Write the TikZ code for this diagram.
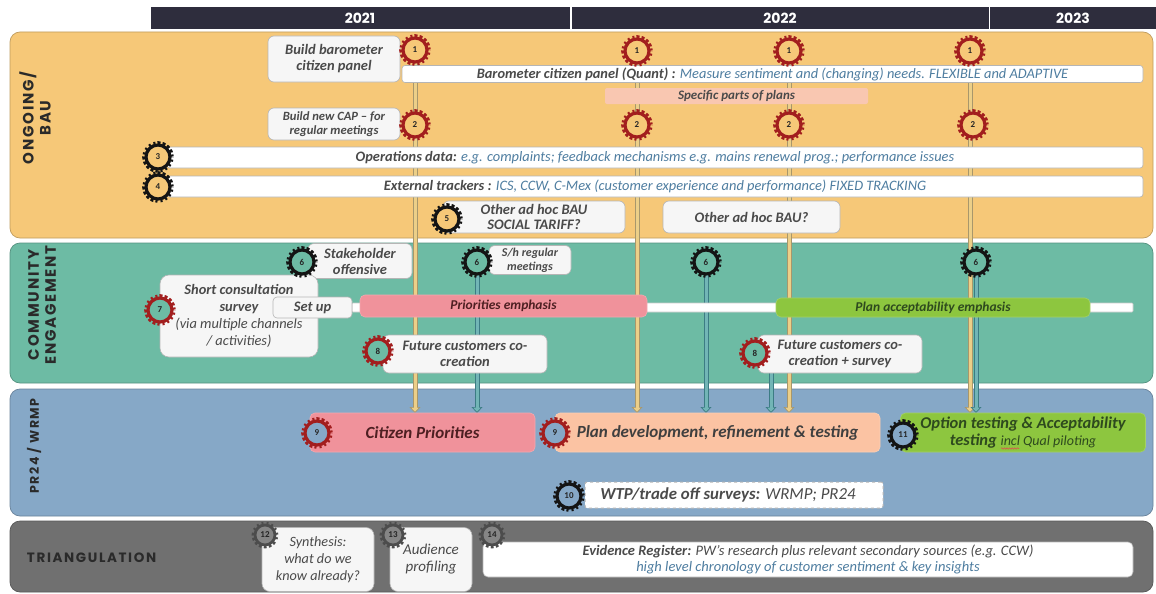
\documentclass[tikz,border=0pt]{standalone}
\usepackage{fontspec}
\setmainfont{Carlito}
\newfontfamily\headfont{Poppins}[LetterSpace=12]
\newfontfamily\yearfont{Poppins}
\usetikzlibrary{arrows.meta,decorations.pathmorphing}

% palette
\definecolor{yearbar}{HTML}{2E2D3D}
\definecolor{bauband}{HTML}{F6C878}
\definecolor{commband}{HTML}{6DBBA4}
\definecolor{prband}{HTML}{86A8C7}
\definecolor{triband}{HTML}{707070}
\definecolor{boxfill}{HTML}{F6F6F6}
\definecolor{boxline}{HTML}{B5B5B5}
\definecolor{txtgray}{HTML}{4A4A4A}
\definecolor{txtblue}{HTML}{4E7DA0}
\definecolor{labeldark}{HTML}{2A2A2A}
\definecolor{gearred}{HTML}{A21E1E}
\definecolor{gearblack}{HTML}{141414}
\definecolor{geargray}{HTML}{4C4C4C}
\definecolor{gearfillgray}{HTML}{858585}
\definecolor{pinkbar}{HTML}{F0929B}
\definecolor{peachbar}{HTML}{FBC3A3}
\definecolor{salmonbar}{HTML}{F9C7B1}
\definecolor{greenbar}{HTML}{8DC63F}
\definecolor{greentext}{HTML}{2E4A1E}
\definecolor{redtext}{HTML}{4E1F22}
\definecolor{pipeY}{HTML}{ECCF88}
\definecolor{pipeYline}{HTML}{A8976B}
\definecolor{pipeT}{HTML}{72B5B6}
\definecolor{pipeTline}{HTML}{3C7C84}
\definecolor{spellred}{HTML}{D9534F}

\pgfdeclarelayer{backdrop}
\pgfdeclarelayer{pipelayer}
\pgfsetlayers{backdrop,pipelayer,main}

\tikzset{
  every node/.style={inner sep=0pt, outer sep=0pt},
  band/.style={draw=#1!78!black, line width=0.7pt, fill=#1, rounded corners=10pt},
  bandlabel/.style={text=labeldark, align=center, font=\headfont\bfseries\fontsize{15}{17}\selectfont},
  yearcell/.style={fill=yearbar, text=white, minimum height=22pt, font=\yearfont\bfseries\fontsize{14}{14}\selectfont},
  wbox/.style={draw=boxline, fill=boxfill, line width=0.6pt, rounded corners=6pt, align=center, text=txtgray, font=\bfseries\itshape\fontsize{14.5}{16}\selectfont},
  bar/.style={draw=boxline, fill=white, line width=0.6pt, rounded corners=3pt, text=txtgray, font=\itshape\fontsize{14.4}{15}\selectfont},
  colbar/.style={draw=#1!80!white, fill=#1, line width=0.6pt, rounded corners=5pt, align=center, font=\bfseries\itshape\fontsize{13.5}{15}\selectfont},
  bigbox/.style={font=\bfseries\itshape\fontsize{17}{19}\selectfont},
  gear/.style 2 args={circle, minimum size=24pt, draw=#1, fill=#2, line width=3.2pt, text=black!85,
    font=\bfseries\fontsize{9}{9}\selectfont,
    preaction={draw=#1, line width=7.6pt, dash pattern=on 2.1pt off 2.06pt}},
  smallgear/.style={circle, minimum size=20pt, draw=geargray, fill=gearfillgray, line width=2.8pt, text=black!85,
    font=\bfseries\fontsize{9}{9}\selectfont,
    preaction={draw=geargray, line width=6.8pt, dash pattern=on 1.9pt off 2.29pt}},
  ypipe/.style={draw=pipeYline, line width=5pt, -{Triangle[width=11pt,length=6pt,line width=0.7pt,fill=pipeY]},
    postaction={draw=pipeY, line width=3pt, arrows=-, shorten >=5pt}},
  tpipe/.style={draw=pipeTline, line width=5pt, -{Triangle[width=11pt,length=6pt,line width=0.7pt,fill=pipeT]},
    postaction={draw=pipeT, line width=3pt, arrows=-, shorten >=5pt}},
  spellmark/.style={draw=spellred, line width=0.6pt, decorate, decoration={snake, amplitude=0.7pt, segment length=2.6pt}},
}

\begin{document}
\begin{tikzpicture}[x=1pt, y=-1pt]
\useasboundingbox (0,0) rectangle (1156,594);

% ---------- swim lanes ----------
\begin{pgfonlayer}{backdrop}
  \fill[white] (0,0) rectangle (1156,594);
  \path[band=bauband]  (10,32)  rectangle (1153,238);
  \path[band=commband] (10,243) rectangle (1153,383);
  \path[band=prband]   (10,389) rectangle (1153,516);
  \path[band=triband]  (10,521) rectangle (1153,592);
\end{pgfonlayer}

% ---------- timeline header ----------
\node[yearcell, minimum width=419pt] (y21) at (360,18) {2021};
\node[yearcell, minimum width=417pt] (y22) at (780,18) {2022};
\node[yearcell, minimum width=166pt] (y23) at (1073,18) {2023};

\node[bandlabel, rotate=90] (lbau) at (35,118) {ONGOING/\\BAU};
\node[bandlabel, rotate=90] (lcomm) at (42,305) {COMMUNITY\\ENGAGEMENT};
\node[bandlabel, rotate=90, font=\headfont\bfseries\fontsize{12.5}{14}\selectfont] (lpr) at (34,446) {PR24 / WRMP};
\node[bandlabel, anchor=west, font=\headfont\bfseries\fontsize{13.5}{15}\selectfont] (ltri) at (27,558) {TRIANGULATION};

% ---------- ongoing / BAU ----------
\node[wbox, minimum width=132pt, minimum height=46pt] (bbp) at (334,59) {Build barometer\\citizen panel};
\node[bar, minimum width=741pt, minimum height=17pt] (bcp) at (772.5,74)
  {{\bfseries Barometer citizen panel (Quant) :} \textcolor{txtblue}{Measure sentiment and (changing) needs. FLEXIBLE and ADAPTIVE}};
\node[colbar=salmonbar, rounded corners=2pt, draw=none, text=txtgray, minimum width=263pt, minimum height=16pt,
  font=\bfseries\itshape\fontsize{13}{13}\selectfont] (spp) at (736.5,96) {Specific parts of plans};
\node[wbox, minimum width=132pt, minimum height=32pt, font=\bfseries\itshape\fontsize{12.6}{14}\selectfont] (cap) at (334,124)
  {Build new CAP -- for\\regular meetings};
\node[bar, minimum width=976pt, minimum height=21pt] (ops) at (655,157.5)
  {{\bfseries Operations data:} \textcolor{txtblue}{e.g. complaints; feedback mechanisms e.g. mains renewal prog.; performance issues}};
\node[bar, minimum width=976pt, minimum height=21pt] (ext) at (655,186.5)
  {{\bfseries External trackers :} \textcolor{txtblue}{ICS, CCW, C-Mex (customer experience and performance) FIXED TRACKING}};
\node[wbox, minimum width=182pt, minimum height=32pt, font=\bfseries\itshape\fontsize{14.5}{15.5}\selectfont] (adh1) at (534,217) {Other ad hoc BAU\\SOCIAL TARIFF?};
\node[wbox, minimum width=177pt, minimum height=32pt] (adh2) at (751.5,217) {Other ad hoc BAU?};

% ---------- community engagement ----------
\node[wbox, minimum width=104pt, minimum height=35pt] (sto) at (360,261) {Stakeholder\\offensive};
\node[wbox, minimum width=82pt, minimum height=29pt, font=\bfseries\itshape\fontsize{12}{14}\selectfont] (shr) at (530,260) {S/h regular\\meetings};
\node[wbox, minimum width=158pt, minimum height=82pt, rounded corners=9pt, font=\itshape\fontsize{14.4}{17}\selectfont] (scs) at (239,316)
  {\textbf{Short consultation}\\\textbf{survey}\\(via multiple channels\\/ activities)};
\node[bar, draw=boxline!70, minimum width=781pt, minimum height=9pt, rounded corners=1pt] (track) at (742.5,307.5) {};
\node[wbox, minimum width=79pt, minimum height=21pt, rounded corners=4pt] (setup) at (312.5,307.5) {Set up};
\node[colbar=pinkbar, text=redtext, minimum width=287pt, minimum height=22pt] (prio) at (503.5,306) {Priorities emphasis};
\node[colbar=greenbar, text=greentext, minimum width=314pt, minimum height=19pt] (acc) at (933,307.5) {Plan acceptability emphasis};
\node[wbox, minimum width=164pt, minimum height=38pt] (fcc) at (465,354) {Future customers co-\\creation};
\node[wbox, minimum width=164pt, minimum height=38pt] (fcs) at (840,354) {Future customers co-\\creation + survey};

% ---------- PR24 / WRMP ----------
\node[colbar=pinkbar, bigbox, text=redtext, minimum width=225pt, minimum height=39pt] (cp) at (422.5,432.5) {Citizen Priorities};
\node[colbar=peachbar, bigbox, text=txtgray!85!black, minimum width=325pt, minimum height=39pt] (pd) at (717.5,432.5)
  {Plan development, refinement \& testing};
\node[colbar=greenbar, bigbox, text=greentext, minimum width=245pt, minimum height=39pt, font=\bfseries\itshape\fontsize{16.5}{17}\selectfont] (ot) at (1023,432.5)
  {Option testing \& Acceptability\\testing {\mdseries\fontsize{14}{15}\selectfont incl Qual piloting}};
\draw[spellmark] ([xshift=-22pt,yshift=3.5pt]ot.south) -- ([xshift=-4pt,yshift=3.5pt]ot.south);
\node[draw=boxline, dashed, fill=white, line width=1pt, rounded corners=2pt, minimum width=298pt, minimum height=26pt,
  text=txtgray, font=\itshape\fontsize{16.8}{17}\selectfont] (wtp) at (734,495)
  {\hspace*{-12pt}{\bfseries WTP/trade off surveys:} WRMP; PR24};

% ---------- triangulation ----------
\node[wbox, minimum width=112pt, minimum height=64pt, rounded corners=8pt, font=\itshape\fontsize{14.2}{17}\selectfont] (syn) at (318,559.5)
  {Synthesis:\\what do we\\know already?};
\node[wbox, minimum width=82pt, minimum height=64pt, rounded corners=8pt, font=\itshape\fontsize{15}{17}\selectfont] (aud) at (431,559.5)
  {Audience\\profiling};
\node[bar, minimum width=650pt, minimum height=35pt, rounded corners=5pt, align=center, font=\itshape\fontsize{14.5}{16.5}\selectfont] (evr) at (808,559.5)
  {{\bfseries Evidence Register:} PW's research plus relevant secondary sources (e.g. CCW)\\
   \textcolor{txtblue}{high level chronology of customer sentiment \& key insights}};

% ---------- numbered markers ----------
\node[gear={gearred}{bauband}] (g1a) at (415,50) {1};
\node[gear={gearred}{bauband}] (g1b) at (637,51) {1};
\node[gear={gearred}{bauband}] (g1c) at (789,51) {1};
\node[gear={gearred}{bauband}] (g1d) at (970,51) {1};
\node[gear={gearred}{bauband}] (g2a) at (415,125) {2};
\node[gear={gearred}{bauband}] (g2b) at (637,125) {2};
\node[gear={gearred}{bauband}] (g2c) at (789,125) {2};
\node[gear={gearred}{bauband}] (g2d) at (973,125) {2};
\node[gear={gearblack}{bauband}] (g3) at (158,157) {3};
\node[gear={gearblack}{bauband}] (g4) at (158,187) {4};
\node[gear={gearblack}{bauband}] (g5) at (447,219) {5};
\node[gear={gearblack}{commband}] (g6a) at (302,262) {6};
\node[gear={gearblack}{commband}] (g6b) at (477,262) {6};
\node[gear={gearblack}{commband}] (g6c) at (706,262) {6};
\node[gear={gearblack}{commband}] (g6d) at (976,262) {6};
\node[gear={gearred}{commband}] (g7) at (160,310) {7};
\node[gear={gearred}{commband}] (g8a) at (378,351) {8};
\node[gear={gearred}{commband}] (g8b) at (755,353) {8};
\node[gear={gearred}{prband}] (g9a) at (317,433) {9};
\node[gear={gearred}{prband}] (g9b) at (555,433) {9};
\node[gear={gearblack}{prband}] (g10) at (569,496) {10};
\node[gear={gearblack}{prband}] (g11) at (903,435) {11};
\node[smallgear] (g12) at (265,535) {12};
\node[smallgear] (g13) at (393,535) {13};
\node[smallgear] (g14) at (492,535) {14};

% ---------- feeds into PR24 / WRMP ----------
\begin{pgfonlayer}{pipelayer}
  \draw[ypipe] (g1a.center) -- (g1a.center |- cp.north);
  \draw[ypipe] (g1b.center) -- (g1b.center |- pd.north);
  \draw[ypipe] (g1c.center) -- (g1c.center |- pd.north);
  \draw[ypipe] (g1d.center) -- (g1d.center |- ot.north);
  \draw[tpipe] (g6b.center) -- (g6b.center |- cp.north);
  \draw[tpipe] (g6c.center) -- (g6c.center |- pd.north);
  \draw[tpipe] (g6d.center) -- (g6d.center |- ot.north);
  \draw[tpipe] (771,0 |- fcs.south) -- (771,0 |- pd.north);
\end{pgfonlayer}
\end{tikzpicture}
\end{document}
